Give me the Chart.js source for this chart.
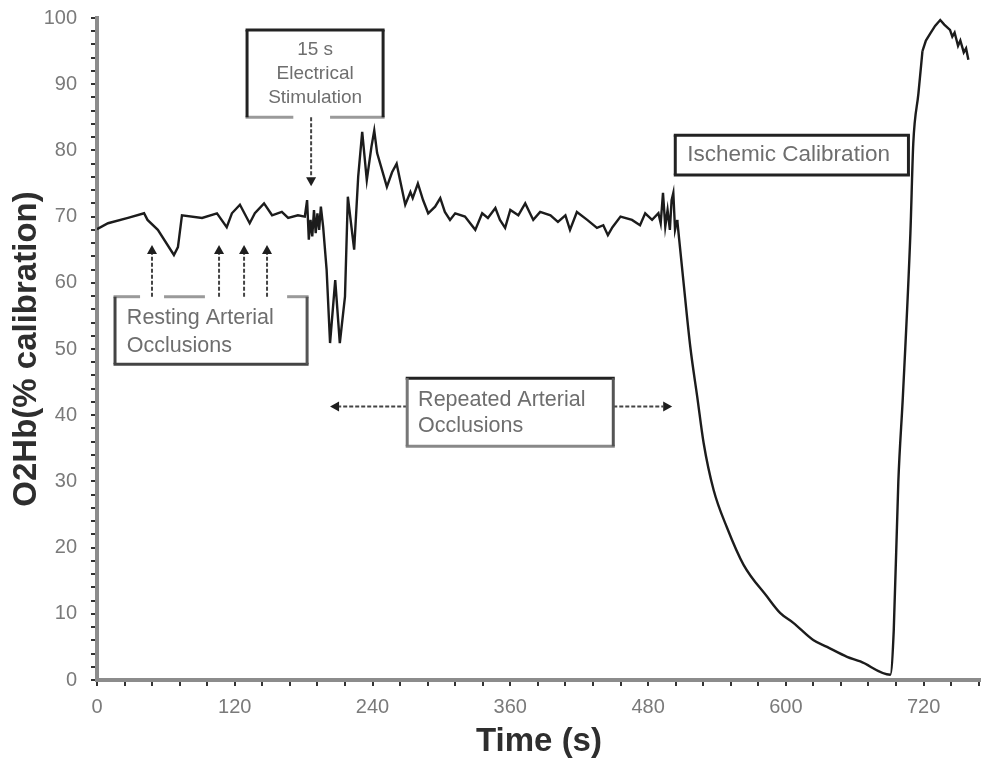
<!DOCTYPE html>
<html>
<head>
<meta charset="utf-8">
<script src="https://cdn.jsdelivr.net/npm/chart.js@4/dist/chart.umd.min.js"></script>
<style>
  html, body { margin: 0; padding: 0; background: #fff; }
  #wrap { width: 981px; height: 762px; }
</style>
</head>
<body>
<div id="wrap"><canvas id="c" width="981" height="762"></canvas></div>
<script>
// Time (s) of each sample
const times = [
  0, 9.6, 27, 41, 44, 53, 67, 70.5, 74, 91.5, 104.5, 113, 117.5, 124.5, 133, 137.5,
  145.5, 152.5, 161, 166.5, 175, 181, 183, 184.5, 186, 187.5, 189, 190.5, 192, 193.5,
  195, 197, 200, 203, 207.5, 211.5, 216, 218.5, 224, 227.5, 231, 235, 239, 241.5, 244,
  249, 252.5, 257, 261, 264, 268.5, 273, 275, 279.5, 284, 288.5, 294.5, 299, 303,
  307.5, 312, 320.5, 329.5, 335.5, 340.5, 347, 351, 355.5, 360, 367, 373, 380, 386,
  395, 401.5, 408, 412, 418, 427, 435.5, 441, 445, 449, 456, 466, 473, 477.5, 483.5,
  489, 491, 493, 495, 497, 499, 500.5, 502, 503.5, 505.4,
  // ischemic calibration: occlusion and release
  510.7, 516.8, 522.9, 528.4, 537.1, 548.8, 563.2, 583.6, 595.2, 606.8, 624.2, 635.9,
  653.3, 664.9, 691, 694, 698, 702, 708.5, 711, 715.5, 719,
  // post-release peak
  722, 726, 730, 734.5, 738, 743, 745, 747, 750, 752, 755, 757, 759
];

// O2Hb (% calibration) at each sample
const o2hb = [
  68.1, 69.0, 69.8, 70.5, 69.5, 68.0, 64.2, 65.4, 70.2, 69.8, 70.5, 68.4, 70.5, 71.8, 69.0, 70.5,
  72.0, 70.2, 70.7, 69.8, 70.2, 70.0, 72.5, 66.5, 69.5, 67.0, 71.0, 67.5, 70.5, 68.0,
  71.5, 68.4, 62.0, 50.9, 60.4, 50.9, 57.9, 73.0, 65.0, 76.0, 82.8, 75.5, 80.5, 83.0, 79.6,
  76.6, 74.5, 76.7, 78.0, 75.5, 71.8, 73.7, 72.8, 75.0, 72.5, 70.5, 71.5, 72.8, 70.7,
  69.5, 70.5, 70.0, 68.0, 70.5, 69.8, 71.3, 69.5, 68.3, 71.0, 70.2, 72.0, 69.5, 70.7,
  70.2, 69.2, 70.2, 68.0, 70.7, 69.5, 68.3, 68.7, 67.2, 68.4, 70.0, 69.5, 68.7, 70.5, 69.5,
  70.5, 69.0, 73.6, 68.5, 71.0, 68.0, 72.5, 73.6, 68.0, 69.5,
  60.4, 50.3, 42.7, 35.8, 28.7, 23.0, 17.4, 12.6, 10.1, 8.6, 6.0, 5.0,
  3.5, 2.8, 0.8, 7.5, 30.0, 43.0, 67.5, 81.0, 88.6, 95.0,
  96.6, 97.7, 98.8, 99.7, 99.0, 98.2, 97.2, 97.8, 95.8, 96.6, 94.8, 95.4, 93.7
];

// Sample index where the smooth calibration curve starts / ends
const calStart = times.indexOf(505.4);
const calEnd = times.indexOf(719);

// Axis ticks
const xTickStep = 24, xLabelStep = 120, xMax = 770;
const yTickStep = 2, yLabelStep = 10, yMax = 100;

const FONT = "'Liberation Sans', Arial, sans-serif";

// Call-out boxes, in axis units: [xLeft, xRight, yTop, yBottom]
const notes = [
  { box: [130.7, 249.2, 98.2, 85.0], sides: { top: '#222', right: '#222', bottom: '#9a9a9a', left: '#222' },
    gaps: { bottom: [[171, 203]] },
    lines: ['15 s', 'Electrical', 'Stimulation'], align: 'center', tx: 190, ty: [95.2, 91.6, 88.0], size: 19 },
  { box: [15.7, 183, 57.9, 47.7], sides: { top: '#9a9a9a', right: '#555', bottom: '#444', left: '#444' },
    gaps: { top: [[37.5, 58.4], [94, 165.6]] },
    lines: ['Resting Arterial', 'Occlusions'], align: 'left', tx: 26, ty: [54.6, 50.5], size: 21.5 },
  { box: [270.2, 449.7, 45.6, 35.3], sides: { top: '#222', right: '#555', bottom: '#888', left: '#777' },
    gaps: {},
    lines: ['Repeated Arterial', 'Occlusions'], align: 'left', tx: 279.7, ty: [42.3, 38.4], size: 21.5 },
  { box: [503.7, 706.8, 82.3, 76.3], sides: { top: '#222', right: '#222', bottom: '#222', left: '#222' },
    gaps: {},
    lines: ['Ischemic Calibration'], align: 'left', tx: 514.2, ty: [79.3], size: 22.5 }
];

// Dashed pointers, in axis units: [x0, y0] -> [x1, y1] (head at the second point)
const pointers = [
  [[186.5, 85.0], [186.5, 74.6]],
  [[47.9, 57.9], [47.9, 65.7]],
  [[106.3, 57.9], [106.3, 65.7]],
  [[128.1, 57.9], [128.1, 65.7]],
  [[148.1, 57.9], [148.1, 65.7]],
  [[270.2, 41.3], [203.0, 41.3]],
  [[449.7, 41.3], [501.0, 41.3]]
];

const calloutPlugin = {
  id: 'callouts',
  afterDatasetsDraw(chart) {
    const ctx = chart.ctx, xs = chart.scales.x, ys = chart.scales.y;
    const px = v => xs.getPixelForValue(v), py = v => ys.getPixelForValue(v);
    ctx.save();

    // pointers
    pointers.forEach(([a, b]) => {
      const x0 = px(a[0]), y0 = py(a[1]), x1 = px(b[0]), y1 = py(b[1]);
      const ang = Math.atan2(y1 - y0, x1 - x0);
      const L = 9, W = 5;
      const bx = x1 - L * Math.cos(ang), by = y1 - L * Math.sin(ang);
      ctx.setLineDash([4, 2]);
      ctx.strokeStyle = '#444';
      ctx.lineWidth = 2;
      ctx.beginPath(); ctx.moveTo(x0, y0); ctx.lineTo(bx, by); ctx.stroke();
      ctx.setLineDash([]);
      ctx.fillStyle = '#1e1e1e';
      ctx.beginPath();
      ctx.moveTo(x1, y1);
      ctx.lineTo(bx - W * Math.sin(ang), by + W * Math.cos(ang));
      ctx.lineTo(bx + W * Math.sin(ang), by - W * Math.cos(ang));
      ctx.closePath(); ctx.fill();
    });

    // boxes and text
    notes.forEach(n => {
      const l = px(n.box[0]), r = px(n.box[1]), t = py(n.box[2]), b = py(n.box[3]);
      ctx.lineWidth = 3;
      const side = (name, x0, y0, x1, y1) => {
        ctx.strokeStyle = n.sides[name];
        const gaps = (n.gaps[name] || []).map(g => [px(g[0]), px(g[1])]);
        let segs = [[x0, x1]];
        if (y0 === y1) {
          gaps.forEach(([g0, g1]) => {
            const out = [];
            segs.forEach(([s0, s1]) => {
              if (g1 <= s0 || g0 >= s1) { out.push([s0, s1]); return; }
              if (g0 > s0) out.push([s0, g0]);
              if (g1 < s1) out.push([g1, s1]);
            });
            segs = out;
          });
          segs.forEach(([s0, s1]) => { ctx.beginPath(); ctx.moveTo(s0, y0); ctx.lineTo(s1, y1); ctx.stroke(); });
        } else {
          ctx.beginPath(); ctx.moveTo(x0, y0); ctx.lineTo(x1, y1); ctx.stroke();
        }
      };
      side('top', l - 1.5, t, r + 1.5, t);
      side('bottom', l - 1.5, b, r + 1.5, b);
      side('left', l, t, l, b);
      side('right', r, t, r, b);

      ctx.fillStyle = '#6e6e6e';
      ctx.font = n.size + 'px ' + FONT;
      ctx.textBaseline = 'middle';
      ctx.textAlign = n.align;
      n.lines.forEach((s, i) => ctx.fillText(s, px(n.tx), py(n.ty[i])));
    });
    ctx.restore();
  }
};

const toPoints = (a, b) => times.slice(a, b).map((t, i) => ({ x: t, y: o2hb[a + i] }));
const lineStyle = { borderColor: '#1c1c1c', borderWidth: 2.4, pointRadius: 0, fill: false };

new Chart(document.getElementById('c'), {
  type: 'line',
  data: {
    datasets: [
      // noisy baseline and repeated occlusions
      Object.assign({ data: toPoints(0, calStart + 1), tension: 0 }, lineStyle),
      // smooth desaturation and recovery
      Object.assign({ data: toPoints(calStart, calEnd + 1), cubicInterpolationMode: 'monotone' }, lineStyle),
      // hyperaemic peak
      Object.assign({ data: toPoints(calEnd, times.length), tension: 0 }, lineStyle)
    ]
  },
  options: {
    responsive: false,
    animation: false,
    devicePixelRatio: 1,
    layout: { padding: { top: 18, right: 0, bottom: 0, left: 0 } },
    plugins: { legend: { display: false }, tooltip: { enabled: false } },
    scales: {
      x: {
        type: 'linear', min: 0, max: xMax,
        afterBuildTicks: s => {
          const tk = [];
          for (let v = 0; v <= xMax; v += xTickStep) tk.push({ value: v });
          s.ticks = tk;
        },
        afterFit: s => { s.height = 82; s.paddingLeft = 0; s.paddingRight = 0; },
        ticks: {
          autoSkip: false, maxRotation: 0, minRotation: 0, padding: 9,
          color: '#7a7a7a', font: { size: 20, family: FONT },
          callback: v => (v % xLabelStep === 0 ? String(v) : '')
        },
        grid: { drawOnChartArea: false, drawTicks: true, tickLength: 6, color: '#333', lineWidth: 2 },
        border: { display: true, color: '#8c8c8c', width: 4 },
        title: {
          display: true, text: 'Time (s)', color: '#2e2e2e',
          font: { size: 33, weight: 'bold', family: FONT }, padding: { top: 0, bottom: 0 }
        }
      },
      y: {
        type: 'linear', min: 0, max: yMax,
        afterBuildTicks: s => {
          const tk = [];
          for (let v = 0; v <= yMax; v += yTickStep) tk.push({ value: v });
          s.ticks = tk;
        },
        afterFit: s => { s.width = 97; s.paddingTop = 0; s.paddingBottom = 0; },
        ticks: {
          autoSkip: false, padding: 14,
          color: '#7a7a7a', font: { size: 20, family: FONT },
          callback: v => (v % yLabelStep === 0 ? String(v) : '')
        },
        grid: { drawOnChartArea: false, drawTicks: true, tickLength: 6, color: '#333', lineWidth: 2 },
        border: { display: true, color: '#8c8c8c', width: 4 },
        title: {
          display: true, text: 'O2Hb(% calibration)', color: '#2e2e2e',
          font: { size: 33, weight: 'bold', family: FONT }, padding: { top: 7, bottom: 0 }
        }
      }
    }
  },
  plugins: [calloutPlugin]
});
</script>
</body>
</html>
